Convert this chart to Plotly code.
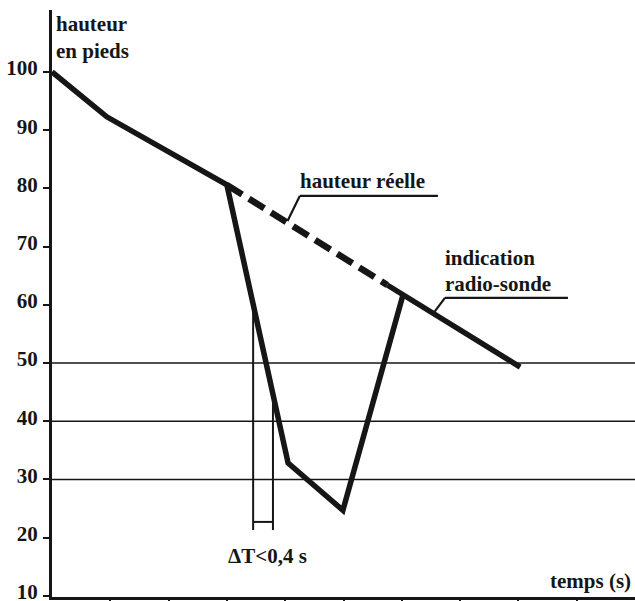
import plotly.graph_objects as go

# ---- data (time in s, height in feet) ----
radio_t = [0.0, 0.94, 3.0, 4.05, 4.99, 6.02]
radio_h = [100, 92.3, 80.6, 32.8, 24.7, 61.7]

reelle_dash_t = [3.0, 5.75]
reelle_dash_h = [80.6, 63.4]

reelle_solid_t = [5.75, 8.03]
reelle_solid_h = [63.4, 49.3]

ytick_vals = [10, 20, 30, 40, 50, 60, 70, 80, 90, 100]
xtick_vals = [1, 2, 3, 4, 5, 6, 7, 8, 9]
grid_levels = [30, 40, 50]

# Delta T bracket
dt_left_t, dt_right_t = 3.45, 3.79
dt_bottom_h, dt_bar_h = 21.3, 22.7

INK = "#161616"
FONT = "Liberation Serif"

fig = go.Figure()

# grid lines
for g in grid_levels:
    fig.add_shape(type="line", x0=0, x1=10, y0=g, y1=g, xref="x", yref="y",
                  line=dict(color=INK, width=1.6), layer="below")

# real height (dashed part)
fig.add_trace(go.Scatter(x=reelle_dash_t, y=reelle_dash_h, mode="lines",
                         line=dict(color=INK, width=6.5, dash="18px,8px"),
                         showlegend=False, hoverinfo="skip"))
# real height (solid part, coincides with radio-sonde)
fig.add_trace(go.Scatter(x=reelle_solid_t, y=reelle_solid_h, mode="lines",
                         line=dict(color=INK, width=5.5),
                         showlegend=False, hoverinfo="skip"))
# radio-sonde indication
fig.add_trace(go.Scatter(x=radio_t, y=radio_h, mode="lines",
                         line=dict(color=INK, width=5.5),
                         showlegend=False, hoverinfo="skip"))

# Delta T verticals: tops on the descending segment
def on_drop(t):
    t0, t1 = radio_t[2], radio_t[3]
    h0, h1 = radio_h[2], radio_h[3]
    return h0 + (t - t0) / (t1 - t0) * (h1 - h0)

for t in (dt_left_t, dt_right_t):
    fig.add_shape(type="line", x0=t, x1=t, y0=on_drop(t), y1=dt_bottom_h,
                  xref="x", yref="y", line=dict(color=INK, width=2))
fig.add_shape(type="line", x0=dt_left_t, x1=dt_right_t, y0=dt_bar_h, y1=dt_bar_h,
              xref="x", yref="y", line=dict(color=INK, width=2))

# leader + underline for "hauteur réelle"
fig.add_shape(type="line", x0=4.04, y0=74.4, x1=4.25, y1=78.7,
              line=dict(color=INK, width=2.2))
fig.add_shape(type="line", x0=4.25, y0=78.7, x1=6.62, y1=78.7,
              line=dict(color=INK, width=2.2))
# leader + underline for "radio-sonde"
fig.add_shape(type="line", x0=6.56, y0=58.8, x1=6.74, y1=61.2,
              line=dict(color=INK, width=2.2))
fig.add_shape(type="line", x0=6.74, y0=61.2, x1=8.85, y1=61.2,
              line=dict(color=INK, width=2.2))

tf = dict(family=FONT, size=21, color=INK, weight="bold")
ann = [
    dict(x=4.22, y=81.2, text="hauteur réelle", xanchor="left", yanchor="middle"),
    dict(x=6.7, y=68.0, text="indication", xanchor="left", yanchor="middle"),
    dict(x=6.7, y=63.6, text="radio-sonde", xanchor="left", yanchor="middle"),
    dict(x=3.70, y=16.8, text="ΔT<0,4 s", xanchor="center", yanchor="middle"),
    dict(x=8.5, y=12.5, text="temps (s)", xanchor="left", yanchor="middle"),
    dict(x=0.04, y=105.9, text="hauteur<br>en pieds", xanchor="left", yanchor="middle",
         align="left"),
]
for a in ann:
    fig.add_annotation(xref="x", yref="y", showarrow=False, font=tf, **a)

fig.update_xaxes(range=[0, 10], showgrid=False, zeroline=False, automargin=False,
                 showline=True, linecolor=INK, linewidth=2.5,
                 tickvals=xtick_vals, ticks="outside", ticklen=6, tickwidth=2,
                 tickcolor=INK, showticklabels=False)
fig.update_yaxes(range=[9.8, 110.65], showgrid=False, zeroline=False, automargin=False,
                 showline=True, linecolor=INK, linewidth=3,
                 tickvals=ytick_vals, ticktext=[str(v) for v in ytick_vals],
                 ticks="outside", ticklen=6, tickwidth=2, tickcolor=INK,
                 tickfont=dict(family=FONT, size=21, color=INK, weight="bold"),
                 ticklabelshift=-4, ticklabelstandoff=1, ticklabeloverflow="allow")

fig.update_layout(width=635, height=601,
                  margin=dict(l=52, r=0, t=10, b=4),
                  paper_bgcolor="white", plot_bgcolor="white",
                  showlegend=False)

fig.write_html("out.html", config={"displayModeBar": False},
               post_script="document.body.style.margin='0';document.body.style.padding='0';"
                           "document.body.style.overflow='hidden';")
